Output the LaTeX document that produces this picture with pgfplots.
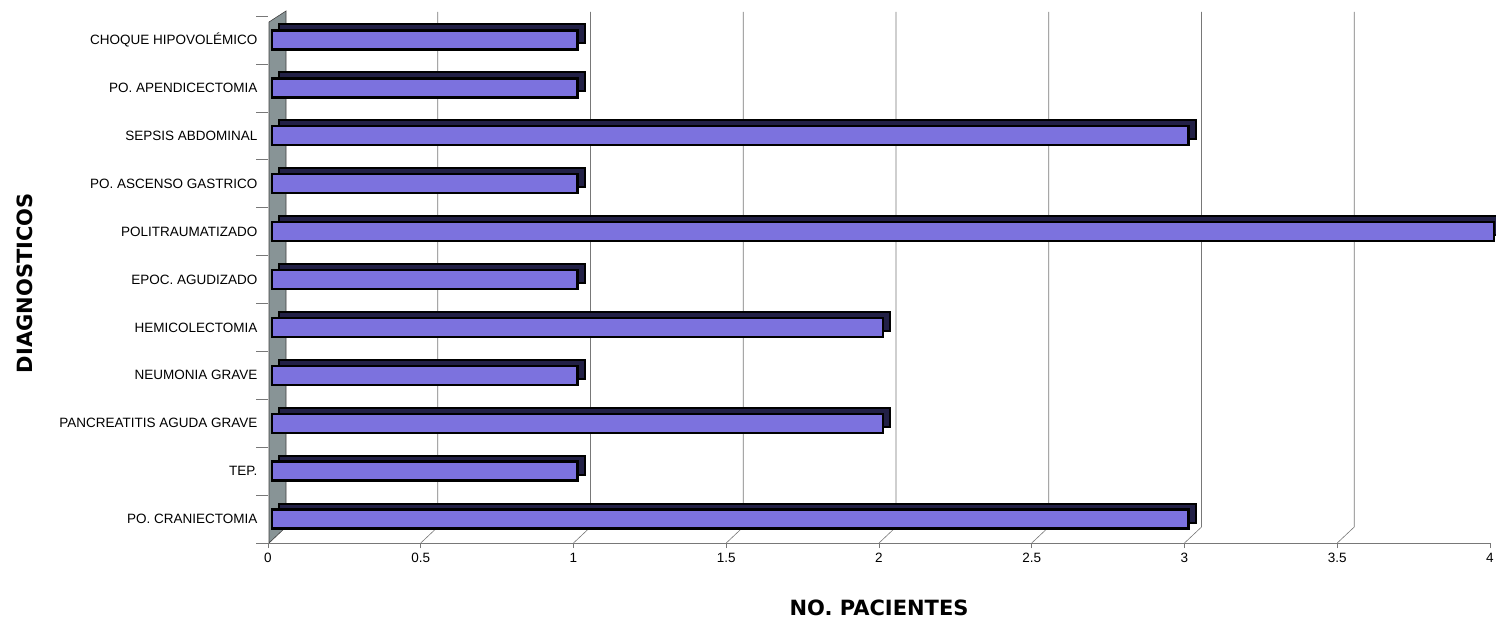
\documentclass[border=0pt]{standalone}
\usepackage{pgfplots}
\pgfplotsset{compat=1.18}
\usepackage{fontspec}
\setmainfont{Liberation Sans}
\newfontfamily\titlefont{DejaVu Sans}
\definecolor{barfront}{RGB}{124,114,222}
\definecolor{barside}{RGB}{34,32,70}
\definecolor{wallc}{RGB}{136,148,150}
\definecolor{gridc}{RGB}{120,120,120}
\begin{document}
\begin{tikzpicture}
\begin{axis}[
  set layers,
  scale only axis, width=1222pt, height=527pt,
  xmin=0, xmax=4, ymin=-0.5, ymax=10.5,
  clip=false,
  axis x line*=bottom, axis y line*=left,
  x axis line style={gridc, -, line width=0.6pt},
  y axis line style={draw=none},
  xtick={0,0.5,...,4},
  ytick={0,...,10},
  yticklabels={PO. CRANIECTOMIA, TEP., PANCREATITIS AGUDA GRAVE, NEUMONIA GRAVE, HEMICOLECTOMIA, EPOC. AGUDIZADO, POLITRAUMATIZADO, PO. ASCENSO GASTRICO, SEPSIS ABDOMINAL, PO. APENDICECTOMIA, CHOQUE HIPOVOLÉMICO},
  minor ytick={-0.5,0.5,...,10.5},
  tick align=outside,
  major tick length=5pt, minor tick length=12pt,
  every major x tick/.style={gridc, line width=0.6pt},
  every major y tick/.style={draw=none},
  every minor y tick/.style={gridc, line width=0.6pt},
  xticklabel style={font=\fontsize{13.5}{13.5}\selectfont, yshift=-2pt},
  yticklabel style={font=\fontsize{13.5}{13.5}\selectfont, xshift=-2pt},
  /pgf/number format/assume math mode=true,
  xlabel={\titlefont\bfseries NO. PACIENTES},
  ylabel={\titlefont\bfseries DIAGNOSTICOS},
  xlabel style={at={(axis description cs:0.5,-0.1233)}, anchor=center, font=\fontsize{21}{21}\selectfont},
  ylabel style={at={(axis description cs:-0.1989,0.493)}, anchor=center, rotate=0, font=\fontsize{21}{21}\selectfont},
]
\begin{pgfonlayer}{axis background}
\pgfplotsinvokeforeach{0.5,1,1.5,2,2.5,3,3.5}{
  \draw[gridc, line width=0.6pt] ([xshift=17pt,yshift=4pt]axis cs:#1,10.5) -- ([xshift=17pt,yshift=16pt]axis cs:#1,-0.5) -- (axis cs:#1,-0.5);
}
\filldraw[fill=wallc, draw=gray!50!black, line width=0.6pt] ([xshift=1pt]axis cs:0,-0.5) -- ([xshift=1pt,yshift=-6pt]axis cs:0,10.5) -- ([xshift=18pt,yshift=5pt]axis cs:0,10.5) -- ([xshift=18pt,yshift=16pt]axis cs:0,-0.5) -- cycle;
\end{pgfonlayer}
\addplot[xbar, bar shift=0pt, bar width=19pt, fill=barside, draw=black, line width=2pt, xshift=11pt, yshift=6pt]
  coordinates {(3,0) (1,1) (2,2) (1,3) (2,4) (1,5) (4,6) (1,7) (3,8) (1,9) (1,10)};
\addplot[xbar, bar shift=0pt, bar width=19pt, fill=barfront, draw=black, line width=2.4pt, xshift=4pt]
  coordinates {(3,0) (1,1) (2,2) (1,3) (2,4) (1,5) (4,6) (1,7) (3,8) (1,9) (1,10)};
\end{axis}
\pgfresetboundingbox
\path[use as bounding box] (-268pt,-84pt) rectangle (1228pt,543pt);
\end{tikzpicture}
\end{document}
